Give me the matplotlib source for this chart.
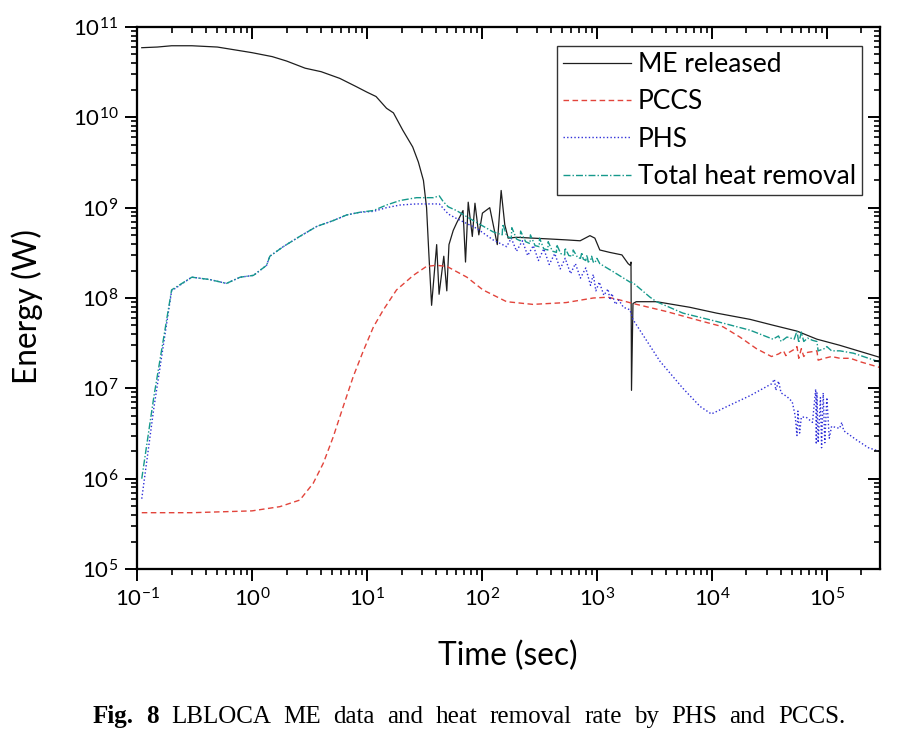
import math
import matplotlib
matplotlib.use("Agg")
import matplotlib.pyplot as plt
from matplotlib.ticker import FixedLocator, FuncFormatter, LogLocator, NullFormatter

plt.rcParams['font.family'] = ['Lato', 'DejaVu Sans']

# ---------------- data ----------------
t_me = [0.11, 0.15, 0.2, 0.3, 0.5, 1.0, 1.5, 2.0, 2.9, 4.0, 5.8, 8.0, 10, 12, 14.8, 17, 20.5, 25, 28, 31,
        33, 34.5, 36.5, 40.4, 42.4, 46.6, 49.5, 51.7, 56.3, 60.4, 68.5, 72, 76, 82.5, 87, 94, 101, 117, 136, 147,
        158, 169, 200, 277, 390, 540, 715, 870, 960, 1060, 1290, 1650, 1870, 1950, 1980, 2000, 2060, 2200, 3300, 6400,
        11000, 21500, 34000, 55000, 82000, 129000, 290000]
e_me = [5.9e10, 6.0e10, 6.2e10, 6.2e10, 6.0e10, 5.2e10, 4.7e10, 4.2e10, 3.5e10, 3.2e10, 2.7e10, 2.2e10, 1.9e10, 1.7e10, 1.26e10, 1.12e10, 7.2e9, 4.7e9, 3.2e9, 2.0e9,
        1.0e9, 3.2e8, 8.3e7, 3.9e8, 1.1e8, 2.9e8, 1.2e8, 3.9e8, 5.6e8, 6.8e8, 9.3e8, 2.5e8, 1.15e9, 4.8e8, 1.12e9, 5.0e8, 8.7e8, 1.0e9, 3.9e8, 1.55e9,
        6.5e8, 4.6e8, 4.7e8, 4.6e8, 4.5e8, 4.4e8, 4.3e8, 4.9e8, 4.6e8, 3.4e8, 3.2e8, 3.0e8, 2.4e8, 2.3e8, 2.5e8, 9.5e6, 8.7e7, 9.1e7, 9.1e7, 7.9e7,
        6.8e7, 5.8e7, 5.0e7, 4.3e7, 3.5e7, 3.0e7, 2.2e7]

t_pccs = [0.11, 0.3, 1.0, 1.75, 2.61, 3.41, 4.17, 5.09, 6.22, 7.6, 9.3, 11.4, 13.9, 18.1, 25.3, 33, 40, 49.5, 74, 102,
          164, 277, 540, 930, 1250, 1590, 2055, 4000, 7900, 12500, 17500, 24400, 33000, 38000, 42000, 44000, 47000, 52000, 55000, 57000,
          60000, 63000, 68000, 75000, 82000, 84000, 95000, 110000, 130000, 160000, 200000, 290000]
e_pccs = [4.2e5, 4.2e5, 4.4e5, 4.9e5, 5.8e5, 8.9e5, 1.48e6, 2.9e6, 6.3e6, 1.35e7, 2.6e7, 4.8e7, 7.4e7, 1.23e8, 1.78e8, 2.24e8, 2.3e8, 2.24e8, 1.7e8, 1.23e8,
          9.1e7, 8.5e7, 8.9e7, 1.0e8, 1.02e8, 9.5e7, 8.7e7, 7.1e7, 5.6e7, 4.8e7, 3.7e7, 2.75e7, 2.25e7, 2.4e7, 2.6e7, 2.3e7, 2.5e7, 2.7e7, 2.9e7, 2.15e7,
          2.75e7, 2.25e7, 2.5e7, 2.55e7, 2.6e7, 2.05e7, 2.15e7, 2.25e7, 2.15e7, 2.15e7, 1.95e7, 1.7e7]

t_phs = [0.11, 0.14, 0.2, 0.3, 0.43, 0.6, 0.79, 1.03, 1.34, 1.43, 1.87, 2.6, 3.66, 5.1, 6.65, 8.7, 11.4, 14.8, 19.4, 27,
         37.8, 42.6, 51, 60, 90, 125, 164, 180, 200, 225, 250, 280, 310, 345, 385, 430, 480, 530, 590, 650,
         720, 800, 880, 930, 980, 1050, 1150, 1250, 1300, 1350, 1450, 1550, 1700, 1940, 2055, 3530, 5600, 7900, 9900, 15400,
         21500, 33000, 35000, 36000, 38000, 40000, 45000, 50000, 53000, 55000, 56000, 58000, 60000, 66000, 75000, 80000, 81000, 82000, 84000, 88000,
         90000, 93000, 96000, 100000, 105000, 110000, 129000, 135000, 140000, 180000, 230000, 290000]
e_phs = [6.0e5, 6.0e6, 1.2e8, 1.7e8, 1.6e8, 1.45e8, 1.7e8, 1.78e8, 2.3e8, 2.9e8, 3.7e8, 4.8e8, 6.2e8, 7.2e8, 8.3e8, 8.9e8, 9.1e8, 1.0e9, 1.07e9, 1.1e9,
         1.1e9, 1.1e9, 8.5e8, 7.6e8, 5.9e8, 4.4e8, 3.7e8, 4.6e8, 3.3e8, 4.3e8, 2.95e8, 3.8e8, 2.6e8, 3.5e8, 2.35e8, 3.1e8, 2.1e8, 2.75e8, 1.86e8, 2.4e8,
         1.66e8, 2.15e8, 1.38e8, 1.82e8, 1.2e8, 1.5e8, 1.07e8, 1.26e8, 9.5e7, 1.12e8, 8.5e7, 9.5e7, 7.9e7, 7.4e7, 5.8e7, 2.0e7, 1.0e7, 6.3e6, 5.2e6, 6.8e6,
         8.3e6, 1.12e7, 1.26e7, 9.5e6, 1.2e7, 8.9e6, 8.1e6, 7.1e6, 5.0e6, 3.0e6, 5.6e6, 3.2e6, 4.8e6, 4.8e6, 4.2e6, 9.8e6, 2.4e6, 8.9e6, 2.5e6, 7.9e6,
         2.2e6, 8.9e6, 2.5e6, 7.9e6, 2.8e6, 3.8e6, 3.6e6, 4.2e6, 3.4e6, 2.7e6, 2.2e6, 2.0e6]

t_tot = [0.11, 0.14, 0.2, 0.3, 0.43, 0.6, 0.79, 1.03, 1.34, 1.43, 1.87, 2.6, 3.66, 5.1, 6.65, 8.7, 11.4, 14.8, 19.4, 27,
         37.8, 42.6, 46, 51, 60, 84, 125, 150, 152, 165, 180, 182, 200, 215, 217, 240, 262, 264, 290, 315,
         317, 345, 375, 377, 410, 445, 447, 485, 525, 527, 570, 620, 622, 680, 720, 740, 760, 800, 820, 840,
         880, 900, 930, 960, 1000, 1060, 1390, 1940, 2055, 2900, 3300, 5600, 11000, 21500, 34000, 38000, 40000, 45000, 52000, 55000,
         57000, 60000, 63000, 68000, 75000, 82000, 84000, 95000, 100000, 110000, 130000, 170000, 290000]
e_tot = [1.0e6, 8.0e6, 1.23e8, 1.7e8, 1.6e8, 1.45e8, 1.7e8, 1.78e8, 2.3e8, 2.9e8, 3.7e8, 4.8e8, 6.2e8, 7.2e8, 8.3e8, 8.9e8, 9.3e8, 1.07e9, 1.2e9, 1.29e9,
         1.29e9, 1.35e9, 1.17e9, 1.02e9, 9.3e8, 7.2e8, 5.4e8, 5.0e8, 6.6e8, 4.8e8, 4.6e8, 6.0e8, 4.5e8, 4.3e8, 5.5e8, 4.2e8, 4.0e8, 5.0e8, 3.8e8, 3.7e8,
         4.6e8, 3.5e8, 3.4e8, 4.2e8, 3.3e8, 3.2e8, 3.9e8, 3.1e8, 3.0e8, 3.6e8, 2.95e8, 2.9e8, 3.4e8, 2.8e8, 2.75e8, 3.2e8, 2.7e8, 2.6e8, 3.0e8, 2.5e8,
         2.6e8, 2.9e8, 2.5e8, 2.45e8, 2.75e8, 2.4e8, 1.95e8, 1.5e8, 1.48e8, 1.02e8, 9.1e7, 6.8e7, 5.5e7, 4.4e7, 3.5e7, 3.8e7, 3.3e7, 3.7e7, 3.5e7, 4.3e7,
         3.2e7, 4.2e7, 3.3e7, 3.6e7, 3.4e7, 3.3e7, 2.6e7, 2.75e7, 2.9e7, 2.6e7, 2.6e7, 2.45e7, 1.95e7]

labels = ["ME released", "PCCS", "PHS", "Total heat removal"]
x_ticks = [1e-1, 1e0, 1e1, 1e2, 1e3, 1e4, 1e5]
y_ticks = [1e5, 1e6, 1e7, 1e8, 1e9, 1e10, 1e11]
x_label = "Time (sec)"
y_label = "Energy (W)"
caption_bold = ["Fig.", "8"]
caption_words = ["LBLOCA", "ME", "data", "and", "heat", "removal", "rate", "by", "PHS", "and", "PCCS."]

# ---------------- figure ----------------
W, H = 902, 735
fig = plt.figure(figsize=(W / 100, H / 100), dpi=100)
L, R, T, B = 137, 880, 27, 569
ax = fig.add_axes([L / W, 1 - B / H, (R - L) / W, (B - T) / H])

ax.plot(t_me, e_me, color='#1e1e1e', lw=0.9, label=labels[0])
ax.plot(t_pccs, e_pccs, color='#e2443b', lw=1.0, ls=(0, (4, 2.5)), label=labels[1])
ax.plot(t_phs, e_phs, color='#2f2fd8', lw=1.0, ls=(0, (1, 1.6)), label=labels[2])
ax.plot(t_tot, e_tot, color='#16998c', lw=1.0, ls=(0, (5, 1.5, 1, 1.5)), label=labels[3])

xlim = (0.1, 2.9e5)
ylim = (1e5, 1e11)
ax.set_xscale('log')
ax.set_yscale('log')
ax.set_xlim(*xlim)
ax.set_ylim(*ylim)

fmt = FuncFormatter(lambda v, p: r'$\mathregular{10^{%d}}$' % round(math.log10(v)))
ax.xaxis.set_major_locator(FixedLocator(x_ticks))
ax.yaxis.set_major_locator(FixedLocator(y_ticks))
ax.xaxis.set_major_formatter(fmt)
ax.yaxis.set_major_formatter(fmt)
ax.xaxis.set_minor_locator(LogLocator(base=10, subs=range(2, 10), numticks=20))
ax.yaxis.set_minor_locator(LogLocator(base=10, subs=range(2, 10), numticks=20))
ax.xaxis.set_minor_formatter(NullFormatter())
ax.yaxis.set_minor_formatter(NullFormatter())
ax.tick_params(which='major', direction='out', length=8.5, width=1.4, labelsize=16, pad=5)
ax.tick_params(which='minor', direction='out', length=4.5, width=1.2)
for s in ax.spines.values():
    s.set_linewidth(1.5)

# mirrored ticks pointing inward on top/right
axt = ax.twiny()
axt.set_xscale('log')
axt.set_xlim(*xlim)
axt.xaxis.set_major_locator(FixedLocator(x_ticks))
axt.xaxis.set_minor_locator(LogLocator(base=10, subs=range(2, 10), numticks=20))
axt.tick_params(which='major', direction='in', length=8.5, width=1.4, labeltop=False)
axt.tick_params(which='minor', direction='in', length=4.5, width=1.2)
axr = ax.twinx()
axr.set_yscale('log')
axr.set_ylim(*ylim)
axr.yaxis.set_major_locator(FixedLocator(y_ticks))
axr.yaxis.set_minor_locator(LogLocator(base=10, subs=range(2, 10), numticks=20))
axr.tick_params(which='major', direction='in', length=8.5, width=1.4, labelright=False)
axr.tick_params(which='minor', direction='in', length=4.5, width=1.2)
for a in (axt, axr):
    for s in a.spines.values():
        s.set_linewidth(1.5)

ax.set_xlabel(x_label, fontsize=22.8, va='center')
ax.set_ylabel(y_label, fontsize=22.8, va='center')
ax.xaxis.set_label_coords((508 - L) / (R - L), -(656 - B) / (B - T))
ax.yaxis.set_label_coords(-(L - 27) / (R - L), (B - 307) / (B - T))

leg = axr.legend(*ax.get_legend_handles_labels(), loc='upper right',
                 bbox_to_anchor=((862 - L) / (R - L), (B - 46) / (B - T)), borderaxespad=0,
                 fontsize=19, frameon=True, fancybox=False, edgecolor='black',
                 handlelength=2.6, handletextpad=0.25, labelspacing=0.47, borderpad=0.22)
leg.get_frame().set_linewidth(1.0)

# justified caption
fig.canvas.draw()
rend = fig.canvas.get_renderer()
objs = []
for w in caption_bold:
    objs.append(fig.text(0, 0, w, fontsize=18, fontweight='bold', family='Liberation Serif', va='baseline'))
for w in caption_words:
    objs.append(fig.text(0, 0, w, fontsize=18, family='Liberation Serif', va='baseline'))
widths = [o.get_window_extent(rend).width for o in objs]
x0, x1 = 93, 845
gap = (x1 - x0 - sum(widths)) / (len(objs) - 1)
x = x0
for o, wd in zip(objs, widths):
    o.set_position((x / W, 1 - 723 / H))
    x += wd + gap

fig.savefig('out.png', dpi=100)
